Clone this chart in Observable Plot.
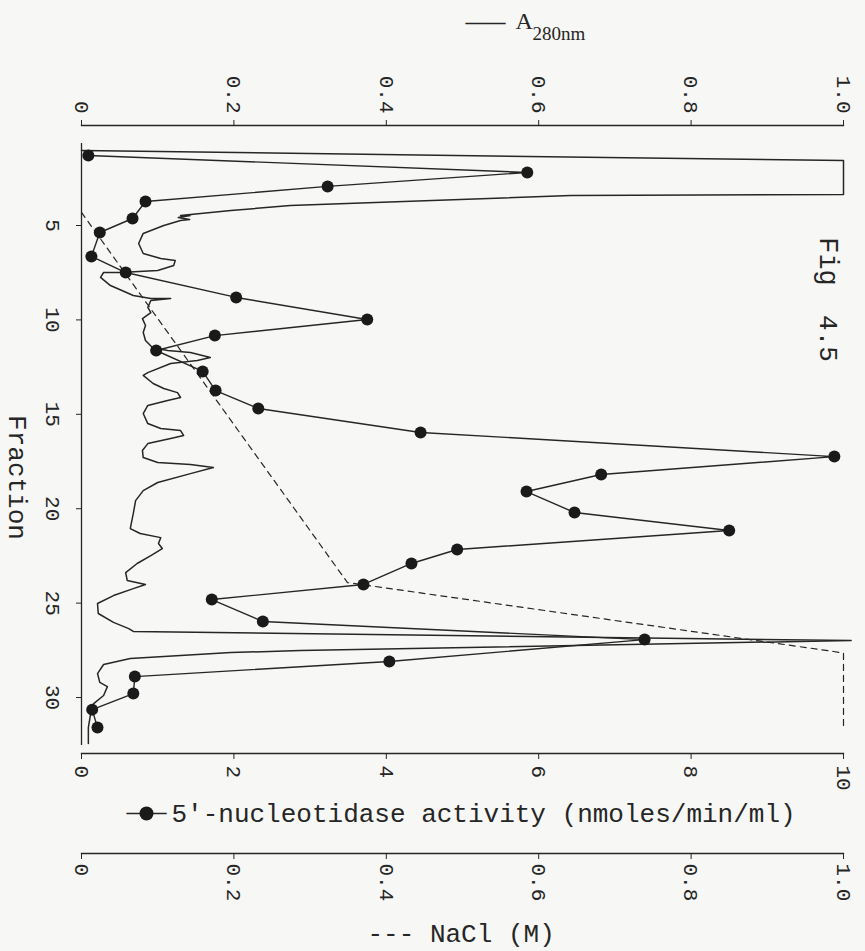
<!DOCTYPE html>
<html><head><meta charset="utf-8">
<script src="https://cdn.jsdelivr.net/npm/d3@7"></script>
<script src="https://cdn.jsdelivr.net/npm/@observablehq/plot@0.6"></script>
<style>
html,body{margin:0;padding:0;background:#f7f7f5;}
#chart svg{display:block;}
</style></head><body><div id="chart"></div>
<script>
// Tick values
const fractionTicks = [5, 10, 15, 20, 25, 30];
const a280Ticks = [0, 0.2, 0.4, 0.6, 0.8, 1.0];
const activityTicks = [0, 2, 4, 6, 8, 10];
const naclTicks = [0, 0.2, 0.4, 0.6, 0.8, 1.0];
const fractionDomain = [0.657, 32.54];

// 5'-nucleotidase activity (nmoles/min/ml) by fraction
const activityFraction = [1.29, 2.19, 2.93, 3.73, 4.63, 5.37, 6.64, 7.49, 8.81, 9.98, 10.83, 11.62, 12.73, 13.74, 14.69, 15.96,
  17.24, 18.19, 19.09, 20.20, 21.15, 22.16, 22.90, 24.01, 24.81, 25.97, 26.93, 28.09, 28.89, 29.79, 30.64, 31.59];
const activityValue = [0.09, 5.85, 3.23, 0.84, 0.67, 0.24, 0.13, 0.58, 2.03, 3.75, 1.75, 0.98, 1.59, 1.76, 2.32, 4.45,
  9.88, 6.82, 5.84, 6.47, 8.50, 4.93, 4.33, 3.70, 1.71, 2.38, 7.39, 4.04, 0.70, 0.68, 0.14, 0.21];

// A280nm trace
const a280Fraction = [1.03, 1.56, 3.36, 3.41, 3.94, 4.21, 4.47, 4.47, 4.58, 4.68, 4.74, 5.00, 5.42, 5.95, 6.48, 6.75, 6.85, 7.12,
  7.38, 7.49, 7.49, 7.75, 8.18, 8.71, 8.87, 8.87, 8.97, 9.34, 9.61, 9.93, 10.30, 10.67, 11.09, 11.46, 11.62, 11.73, 11.99, 12.15,
  12.31, 12.79, 12.94, 13.37, 13.63, 13.85, 14.11, 14.27, 14.53, 14.96, 15.49, 15.75, 15.86, 16.12, 16.28, 16.55, 16.92, 17.29,
  17.55, 17.66, 17.82, 18.14, 18.61, 19.04, 19.57, 20.25, 21.05, 21.31, 21.53, 21.84, 22.11, 22.48, 22.90, 23.38, 23.80, 24.01,
  24.23, 24.60, 25.02, 25.55, 26.02, 26.35, 26.50, 26.98, 27.51, 27.62, 27.93, 28.25, 28.73, 29.20, 29.42, 29.89, 30.32, 30.85,
  31.59, 32.44];
const a280Value = [0.0, 1.0, 1.0, 0.642, 0.274, 0.196, 0.130, 0.143, 0.127, 0.142, 0.130, 0.108, 0.081, 0.075, 0.081, 0.104, 0.123, 0.121,
  0.100, 0.051, 0.029, 0.025, 0.038, 0.068, 0.091, 0.117, 0.091, 0.087, 0.091, 0.080, 0.084, 0.081, 0.084, 0.093, 0.113, 0.143, 0.169, 0.152,
  0.117, 0.087, 0.081, 0.094, 0.108, 0.126, 0.130, 0.113, 0.087, 0.081, 0.087, 0.104, 0.130, 0.134, 0.117, 0.087, 0.080, 0.081,
  0.100, 0.143, 0.173, 0.143, 0.100, 0.081, 0.071, 0.068, 0.064, 0.077, 0.104, 0.101, 0.106, 0.091, 0.073, 0.058, 0.060, 0.084,
  0.068, 0.042, 0.021, 0.022, 0.042, 0.062, 0.068, 1.01, 0.287, 0.196, 0.064, 0.029, 0.021, 0.024, 0.034, 0.029, 0.016, 0.012,
  0.009, 0.009];

// NaCl gradient (M)
const naclFraction = [4.31, 23.91, 27.56, 27.65, 31.5];
const naclValue = [0.0, 0.349, 0.987, 1.0, 1.0];

const ink = "#262626";
const mono = "'Liberation Mono', 'DejaVu Sans Mono', monospace";
const serif = "'Liberation Serif', 'DejaVu Serif', serif";
const fmtDec = d => d === 0 ? "0" : d.toFixed(1);

const activity = activityFraction.map((f, i) => ({f, v: activityValue[i]}));
const a280 = a280Fraction.map((f, i) => ({f, v: a280Value[i] * 10}));
const nacl = naclFraction.map((f, i) => ({f, v: naclValue[i] * 10}));

const label = (s, o) => Plot.text([s], {text: d => d, textAnchor: "middle", lineAnchor: "middle", fill: ink, ...o});

const plot = Plot.plot({
  width: 865, height: 951,
  marginLeft: 81, marginRight: 22, marginTop: 125, marginBottom: 198,
  style: {background: "#f7f7f5", color: ink, fontFamily: mono},
  x: {domain: [0, 10], axis: null},
  y: {domain: fractionDomain, range: [143, 745], axis: null},
  marks: [
    // axis lines
    Plot.frame({anchor: "top", stroke: ink, strokeWidth: 1.3}),
    Plot.frame({anchor: "bottom", stroke: ink, strokeWidth: 1.3}),
    Plot.frame({anchor: "bottom", stroke: ink, strokeWidth: 1.3, dy: 100}),
    Plot.ruleX([0], {y1: fractionDomain[0], y2: fractionDomain[1], stroke: ink, strokeWidth: 1.3}),
    // ticks
    Plot.axisX({anchor: "top", ticks: a280Ticks.map(d => d * 10), tickSize: 6, tickFormat: () => "", label: null, stroke: ink}),
    Plot.axisX({anchor: "bottom", ticks: activityTicks, tickSize: 6, tickFormat: () => "", label: null, stroke: ink}),
    Plot.axisX({anchor: "bottom", ticks: naclTicks.map(d => d * 10), tickSize: 6, tickFormat: () => "", label: null, stroke: ink, dy: 100}),
    Plot.axisY({anchor: "left", ticks: fractionTicks, tickSize: 5, tickFormat: () => "", label: null, stroke: ink}),
    // tick labels
    Plot.text(a280Ticks, {x: d => d * 10, text: fmtDec, frameAnchor: "top", dy: -12, rotate: 90, textAnchor: "end", lineAnchor: "middle", fontSize: 21, fill: ink}),
    Plot.text(activityTicks, {x: d => d, text: d => String(d), frameAnchor: "bottom", dy: 12, rotate: 90, textAnchor: "start", lineAnchor: "middle", fontSize: 21, fill: ink}),
    Plot.text(naclTicks, {x: d => d * 10, text: fmtDec, frameAnchor: "bottom", dy: 110, rotate: 90, textAnchor: "start", lineAnchor: "middle", fontSize: 21, fill: ink}),
    Plot.text(fractionTicks, {y: d => d, text: d => String(d), frameAnchor: "left", dx: -29, rotate: 90, textAnchor: "middle", lineAnchor: "middle", fontSize: 21, fill: ink}),
    // data
    Plot.line(nacl, {x: "v", y: "f", stroke: ink, strokeWidth: 1.2, strokeDasharray: "6,5"}),
    Plot.line(a280, {x: "v", y: "f", stroke: ink, strokeWidth: 1.5}),
    Plot.line(activity, {x: "v", y: "f", stroke: ink, strokeWidth: 1.4}),
    Plot.dot(activity, {x: "v", y: "f", r: 6, fill: "#1a1a1a", stroke: "none"}),
    // legends and labels
    label("\u2014\u2014", {frameAnchor: "top-left", dx: 404, dy: -103, fontSize: 20, fontWeight: "bold", fontFamily: serif}),
    label("A", {frameAnchor: "top-left", dx: 434, dy: -104, textAnchor: "start", fontSize: 24, fontFamily: serif}),
    label("280nm", {frameAnchor: "top-left", dx: 451, dy: -92, textAnchor: "start", fontSize: 19, fontFamily: serif}),
    label("\u2014\u2014", {frameAnchor: "bottom-left", dx: 65, dy: 59, fontSize: 20, fontWeight: "bold", fontFamily: serif}),
    Plot.dot([0], {frameAnchor: "bottom-left", dx: 65, dy: 60, r: 7, fill: "#1a1a1a", stroke: "none"}),
    label("5'-nucleotidase activity (nmoles/min/ml)", {frameAnchor: "bottom-left", dx: 90, dy: 60, textAnchor: "start", fontSize: 26}),
    label("--- NaCl (M)", {frameAnchor: "bottom-left", dx: 286, dy: 180, textAnchor: "start", fontSize: 26}),
    label("Fraction", {frameAnchor: "left", dx: -64, dy: 38, rotate: 90, fontSize: 26}),
    label("Fig", {frameAnchor: "top-right", dx: -15, dy: 136, rotate: 90, fontSize: 27}),
    label("4.5", {frameAnchor: "top-right", dx: -15, dy: 213, rotate: 90, fontSize: 26})
  ]
});
document.getElementById("chart").appendChild(plot);
</script>
</body></html>
